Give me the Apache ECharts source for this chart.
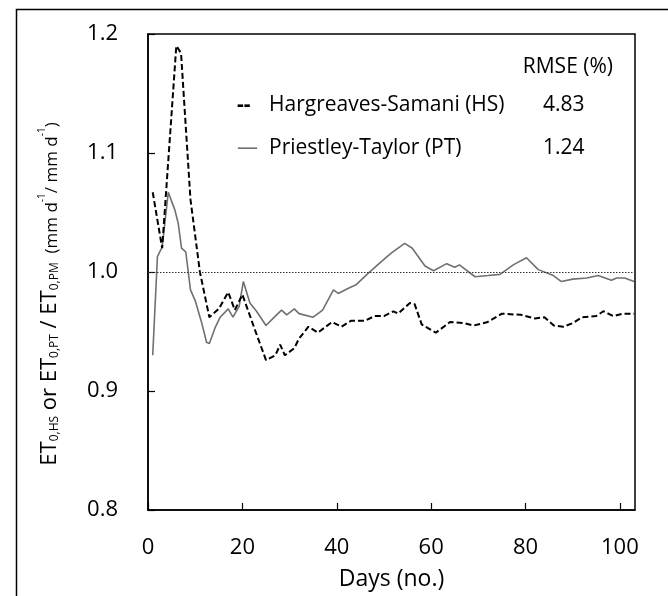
<!DOCTYPE html>
<html><head><meta charset="utf-8">
<script src="https://cdn.jsdelivr.net/npm/echarts@6/dist/echarts.min.js"></script>
<style>html,body{margin:0;padding:0;background:#fff}#c{width:668px;height:596px}</style>
</head><body><div id="c"></div>
<script>
const xTicks = [0, 20, 40, 60, 80, 100];
const yTicks = [0.8, 0.9, 1.0, 1.1, 1.2];
const hsDays = [1,3,6,7,9,11,13,15,17,18.4,20,22.7,25,27,28,29,31,32,34,36,39,41,43,46,48,50,52,53,55.5,56.5,58,61,64,67,69,72,75,79,82,84,86,88,90,92,95,96.5,98.6,100.7,103];
const hsVals = [1.067,1.020,1.190,1.184,1.061,1.000,0.962,0.969,0.983,0.968,0.981,0.951,0.926,0.930,0.939,0.930,0.936,0.944,0.954,0.949,0.958,0.954,0.959,0.959,0.963,0.963,0.967,0.965,0.974,0.973,0.956,0.949,0.958,0.957,0.955,0.958,0.965,0.964,0.961,0.962,0.955,0.954,0.957,0.962,0.963,0.967,0.963,0.965,0.965];
const ptDays = [1,2,3,4.3,5.7,6.4,7.1,8,9,10,11.4,12.4,13,14.2,15.3,17,18,19.3,20.2,21.6,23,25,26.5,28.3,29.4,31,32,35,37,39.3,40.3,42.8,44,46.7,49.5,51.6,54.4,56,58.7,60.5,63.3,65,66,69.3,72,74.6,77.4,80.2,82.7,85.9,87.6,90,93,95.4,98.2,99.3,101,103];
const ptVals = [0.930,1.013,1.021,1.067,1.052,1.041,1.020,1.017,0.985,0.976,0.957,0.941,0.940,0.953,0.962,0.969,0.962,0.971,0.992,0.974,0.967,0.955,0.961,0.968,0.964,0.969,0.965,0.962,0.968,0.985,0.982,0.987,0.989,0.999,1.009,1.016,1.024,1.020,1.005,1.001,1.007,1.004,1.006,0.996,0.997,0.998,1.006,1.012,1.002,0.997,0.992,0.994,0.995,0.997,0.993,0.995,0.995,0.992];
const seriesNames = ['Hargreaves-Samani (HS)', 'Priestley-Taylor (PT)'];
const rmse = ['4.83', '1.24'];
const refLine = 1.0;

const FONT = 'Open Sans';
const LF = '21px "Open Sans"';
const chart = echarts.init(document.getElementById('c'));
chart.setOption({
  animation: false,
  backgroundColor: '#fff',
  grid: { left: 148, top: 34, right: 33, bottom: 86, show: true, borderColor: '#000', borderWidth: 1.5, backgroundColor: 'transparent' },
  xAxis: {
    type: 'value', min: 0, max: 103.2, interval: 20,
    name: 'Days (no.)', nameLocation: 'middle', nameGap: 58,
    nameTextStyle: { fontFamily: FONT, fontSize: 23, color: '#000' },
    axisLine: { onZero: false, lineStyle: { color: '#000', width: 1.5 } },
    axisTick: { inside: true, length: 7, lineStyle: { color: '#000', width: 1.2 } },
    axisLabel: { fontFamily: FONT, fontSize: 22, color: '#000', margin: 27, showMaxLabel: false,
      formatter: v => xTicks.includes(v) ? String(v) : '' },
    splitLine: { show: false }
  },
  yAxis: {
    type: 'value', min: 0.8, max: 1.2, interval: 0.1,
    axisLine: { show: true, lineStyle: { color: '#000', width: 1.5 } },
    axisTick: { show: true, inside: true, length: 7, lineStyle: { color: '#000', width: 1.2 } },
    axisLabel: { fontFamily: FONT, fontSize: 22, color: '#000', margin: 30,
      formatter: v => yTicks.find(t => Math.abs(t - v) < 1e-6).toFixed(1) },
    splitLine: { show: false }
  },
  series: [
    {
      name: seriesNames[0], type: 'line', showSymbol: false, smooth: false,
      data: hsDays.map((d, i) => [d, hsVals[i]]),
      lineStyle: { color: '#000', width: 2, type: [6, 3] },
      markLine: {
        silent: true, symbol: 'none', label: { show: false },
        lineStyle: { color: '#333', width: 1, type: [1.5, 1.5] },
        data: [{ yAxis: refLine }]
      },
      z: 3
    },
    {
      name: seriesNames[1], type: 'line', showSymbol: false, smooth: false,
      data: ptDays.map((d, i) => [d, ptVals[i]]),
      lineStyle: { color: '#707070', width: 1.6 },
      z: 2
    }
  ],
  graphic: [
    { type: 'rect', left: 14, top: 7, shape: { x: 0, y: 0, width: 700, height: 700 },
      style: { fill: 'none', stroke: '#000', lineWidth: 1.5 }, silent: true },
    { type: 'text', x: 613, y: 67, style: { text: 'RMSE (%)', font: LF, fill: '#000', align: 'right', verticalAlign: 'middle' } },
    { type: 'text', x: 237, y: 105, style: { text: '--', font: 'bold 21px "Open Sans"', fill: '#000', align: 'left', verticalAlign: 'middle' } },
    { type: 'text', x: 269, y: 105, style: { text: seriesNames[0], font: LF, fill: '#000', align: 'left', verticalAlign: 'middle' } },
    { type: 'text', x: 543, y: 105, style: { text: rmse[0], font: LF, fill: '#000', align: 'left', verticalAlign: 'middle' } },
    { type: 'text', x: 237, y: 148, style: { text: '\u2014', font: LF, fill: '#707070', align: 'left', verticalAlign: 'middle' } },
    { type: 'text', x: 269, y: 148, style: { text: seriesNames[1], font: LF, fill: '#000', align: 'left', verticalAlign: 'middle' } },
    { type: 'text', x: 543, y: 148, style: { text: rmse[1], font: LF, fill: '#000', align: 'left', verticalAlign: 'middle' } },
    { type: 'text', x: 47, y: 294, rotation: Math.PI / 2,
      style: {
        text: '{b|ET}{s|0,HS}{b| or ET}{s|0,PT}{b| / ET}{s|0,PM}{m|  (mm d}{p|-1}{m|/ mm d}{p|-1}{m|)}',
        align: 'center', verticalAlign: 'middle', fill: '#000',
        rich: {
          b: { fontFamily: FONT, fontSize: 22, fill: '#000', lineHeight: 28, verticalAlign: 'bottom' },
          s: { fontFamily: FONT, fontSize: 12, fill: '#000', lineHeight: 28, verticalAlign: 'bottom' },
          m: { fontFamily: FONT, fontSize: 17, fill: '#000', lineHeight: 28, verticalAlign: 'bottom' },
          p: { fontFamily: FONT, fontSize: 10, fill: '#000', lineHeight: 28, verticalAlign: 'top', padding: [4, 0, 0, 0] }
        }
      } }
  ]
});
</script></body></html>
